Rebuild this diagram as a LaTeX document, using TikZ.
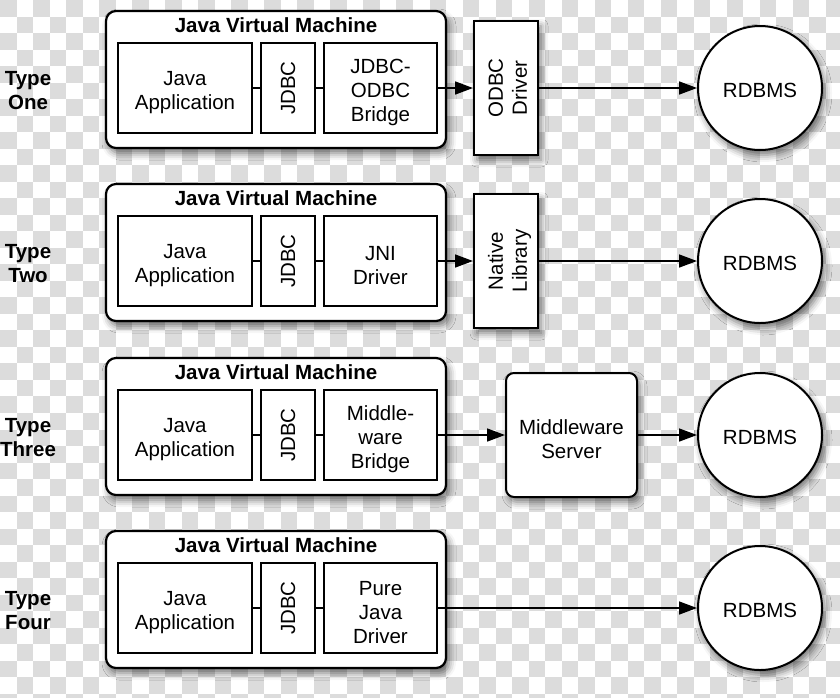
\documentclass[tikz,border=0pt]{standalone}
\usepackage{fontspec}
\setmainfont{Liberation Sans}
\usetikzlibrary{positioning,arrows.meta,shadows.blur}
\definecolor{boardgray}{RGB}{220,220,220}
\tikzstyle{softshadow} = [blur shadow={shadow xshift=3pt, shadow yshift=-5pt, shadow blur radius=7pt, shadow opacity=55}]
\tikzstyle{jvm} = [draw, line width=2.2pt, rounded corners=10pt, fill=white, minimum width=340pt, minimum height=137pt, inner sep=0pt, softshadow]
\tikzstyle{part} = [draw, line width=1.8pt, fill=white, minimum height=90pt, inner sep=0pt, align=center]
\tikzstyle{driver} = [draw, line width=2pt, fill=white, minimum width=64pt, minimum height=134pt, inner sep=0pt, softshadow]
\tikzstyle{server} = [draw, line width=2pt, rounded corners=8pt, fill=white, minimum width=131pt, minimum height=124pt, inner sep=0pt, align=center, softshadow]
\tikzstyle{dbms} = [draw, circle, line width=2pt, fill=white, minimum size=124pt, inner sep=0pt, execute at begin node={\rule{0pt}{18.7pt}}, softshadow]
\tikzstyle{link} = [line width=1.6pt]
\tikzstyle{flow} = [line width=1.6pt, -{Triangle[length=18pt,width=13pt]}]
\newcommand{\topstrut}{\rule{0pt}{24pt}}
\newcommand{\sideways}[1]{\hspace*{8pt}\rotatebox{90}{\begin{tabular}{@{}c@{}}#1\end{tabular}}}

\begin{document}
\begin{tikzpicture}[x=1pt, y=-1pt, font=\fontsize{20.5}{24}\selectfont]
			\useasboundingbox (0,0) rectangle (840,697);
			% background board
			\foreach \k in {0,...,50} {\foreach \j in {0,...,42} {
				\ifodd\numexpr\k+\j\relax\else
				\fill[boardgray] (\k*16.52, \j*16.52) rectangle ++(16.52,16.52);
				\fi}}
			% the four driver types
			\foreach \row/\top/\tname/\third in {one/11/One/{JDBC-\\ODBC\\Bridge}, two/184/Two/{JNI\\Driver}, three/358/Three/{Middle-\\ware\\Bridge}, four/531/Four/{Pure\\Java\\Driver}} {
				\node[font=\fontsize{20.5}{24}\selectfont\bfseries, align=center] (type-\row) at (28, \top+80) {Type\\\tname};
				\node[jvm] (jvm-\row) at (276, \top+68.5) {};
				\node[font=\fontsize{20.5}{24}\selectfont\bfseries, anchor=base] (title-\row) at (276, \top+21) {Java Virtual Machine};
				\node[part, minimum width=134pt] (app-\row) at (185, \top+77) {\topstrut Java\\Application};
				\node[part, minimum width=54pt, right=7.2pt of app-\row] (jdbc-\row) {\rotatebox{90}{JDBC}};
				\node[part, minimum width=113pt, right=7.2pt of jdbc-\row] (third-\row) {\topstrut\third};
				\draw[link] (app-\row) -- (jdbc-\row);
				\draw[link] (jdbc-\row) -- (third-\row);
			}
			\node[driver] (odbc) at (506, 88) {\sideways{ODBC\\Driver}};
			\node[driver] (native) at (506, 261) {\sideways{Native\\Library}};
			\node[server] (mwserver) at (571.5, 435) {\topstrut Middleware\\Server};
			\node[dbms] (db-one) at (760, 88) {RDBMS};
			\node[dbms] (db-two) at (760, 261) {RDBMS};
			\node[dbms] (db-three) at (760, 435) {RDBMS};
			\node[dbms] (db-four) at (760, 608) {RDBMS};
			\draw[flow] (third-one) -- (odbc);
			\draw[flow] (odbc) -- (db-one);
			\draw[flow] (third-two) -- (native);
			\draw[flow] (native) -- (db-two);
			\draw[flow] (third-three) -- (mwserver);
			\draw[flow] (mwserver) -- (db-three);
			\draw[flow] (third-four) -- (db-four);
		\end{tikzpicture}
\end{document}
